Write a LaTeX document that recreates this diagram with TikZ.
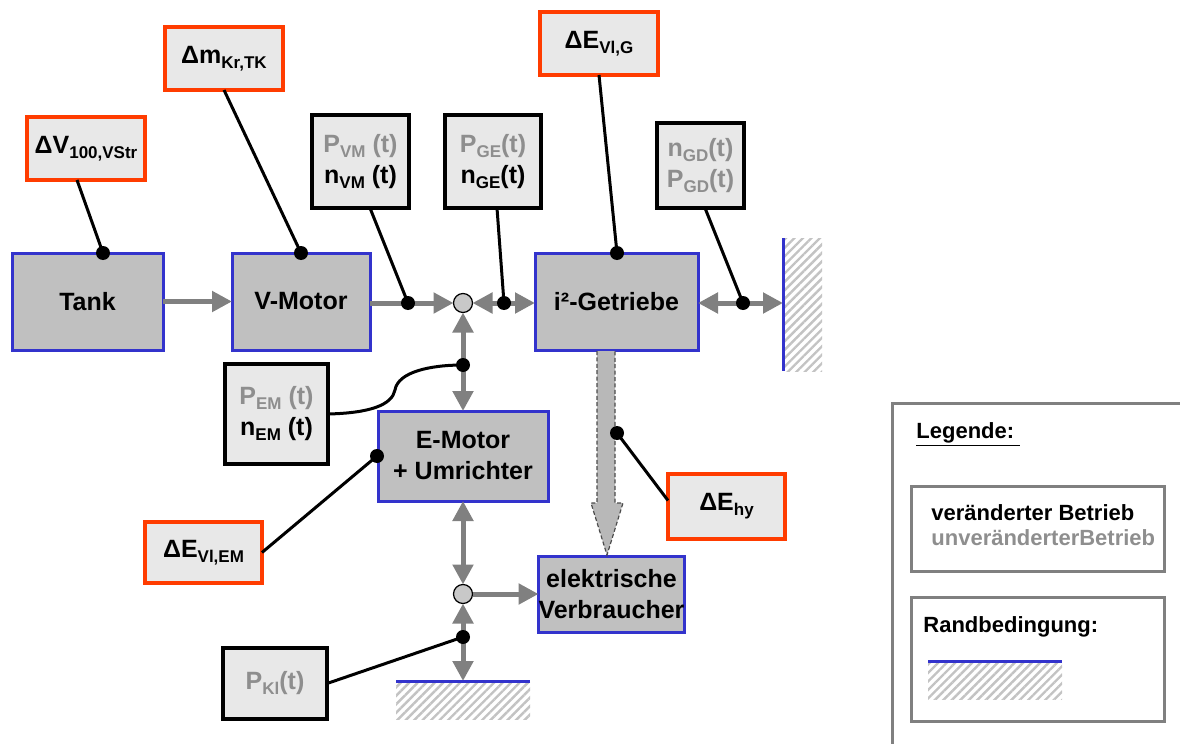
\documentclass[tikz,border=0pt]{standalone}
\usepackage{fontspec}
\setmainfont{Liberation Sans}
\usetikzlibrary{arrows.meta,patterns.meta}

\definecolor{blockblue}{RGB}{51,51,204}
\definecolor{blockfill}{RGB}{192,192,192}
\definecolor{boxfill}{RGB}{232,232,232}
\definecolor{evalred}{RGB}{255,60,0}
\definecolor{flowgray}{RGB}{128,128,128}
\definecolor{textgray}{RGB}{142,142,142}
\definecolor{hatchgray}{RGB}{195,195,195}
\definecolor{legendgray}{RGB}{128,128,128}
\definecolor{hyfill}{RGB}{184,184,184}
\definecolor{junctionfill}{RGB}{200,200,200}

% lowered index text and grey (unchanged) quantities
\newcommand\lowidx[1]{\raisebox{-2.5pt}{\fontsize{8.5}{9}\selectfont #1}}
\newcommand\gtxt[1]{\textcolor{textgray}{#1}}

\tikzset{
  base/.style={inner sep=0pt, outer sep=0pt, align=center,
    font=\bfseries\fontsize{12.5}{15.5}\selectfont},
  block/.style={base, draw=blockblue, line width=1.5pt, fill=blockfill},
  evalbox/.style={base, draw=evalred, line width=2pt, fill=boxfill},
  sigbox/.style={base, draw=black, line width=1.75pt, fill=boxfill},
  junction/.style={circle, draw=black, line width=0.6pt, fill=junctionfill,
    minimum size=9.5pt, inner sep=0pt, outer sep=0pt},
  probedot/.style={circle, fill=black, minimum size=7pt, inner sep=0pt, outer sep=0pt},
  flow/.style={draw=flowgray, line width=2.5pt},
  probe/.style={draw=black, line width=1.5pt},
  wallline/.style={draw=blockblue, line width=1.5pt},
  hatch/.style={pattern={Lines[angle=45,distance=3pt,line width=1.2pt]},
    pattern color=hatchgray},
  legendframe/.style={draw=legendgray, line width=1.5pt},
  legtext/.style={anchor=base west, inner sep=0pt,
    font=\bfseries\fontsize{11}{13}\selectfont},
  wh/.style 2 args={minimum width=#1*0.5pt, minimum height=#2*0.5pt},
  >={Triangle[length=10pt,width=10pt]}
}

\begin{document}
\begin{tikzpicture}[x=0.5pt,y=-0.5pt]
\clip (0,0) rectangle (1180,744);

% system blocks
\node[block, wh={151}{97}] (Tank) at (87.5,301.5) {Tank};
\node[block, wh={138}{97}] (VMotor) at (301,301.5) {V-Motor};
\node[block, wh={163}{97}] (Getriebe) at (616.5,301.5) {i²-Getriebe};
\node[block, wh={170}{90}] (EMotor) at (463,456) {E-Motor\\+ Umrichter};
\node[block, wh={143}{76}] (Verbraucher) at (611.5,594) {elektrische\\Verbraucher};

% evaluated quantities
\node[evalbox, wh={118}{63}] (dV) at (86,148.5) {ΔV\lowidx{100,VStr}};
\node[evalbox, wh={118}{63}] (dm) at (224,58.5) {Δm\lowidx{Kr,TK}};
\node[evalbox, wh={118}{63}] (dEG) at (599,43.5) {ΔE\lowidx{Vl,G}};
\node[evalbox, wh={117}{61}] (dEEM) at (203.5,552.5) {ΔE\lowidx{Vl,EM}};
\node[evalbox, wh={117}{65}] (dEhy) at (726.5,506.5) {ΔE\lowidx{hy}};

% signal quantities
\node[sigbox, wh={97}{93}] (PVM) at (360.5,161.5) {\gtxt{P\lowidx{VM} (t)}\\n\lowidx{VM} (t)};
\node[sigbox, wh={96}{93}] (PGE) at (493,161.5) {\gtxt{P\lowidx{GE}(t)}\\n\lowidx{GE}(t)};
\node[sigbox, wh={87}{85}] (nGD) at (700.5,165.5) {\gtxt{n\lowidx{GD}(t)}\\\gtxt{P\lowidx{GD}(t)}};
\node[sigbox, wh={103}{100}] (PEM) at (276.5,414) {\gtxt{P\lowidx{EM} (t)}\\n\lowidx{EM} (t)};
\node[sigbox, wh={104}{71}] (PKI) at (275,683.5) {\gtxt{P\lowidx{Kl}(t)}};

% power junctions and boundaries
\node[junction] (J1) at (463,303) {};
\node[junction] (J2) at (463,594) {};
\coordinate (wallR) at (783,303);
\coordinate (ground) at (463,681);

% hydraulic energy path
\draw[draw=black!70, line width=0.6pt, dash pattern=on 2pt off 1.2pt, fill=hyfill]
  (597,351) -- (597,503) -- (591,503) -- (607,555) -- (623,503) -- (615,503) -- (615,351);

% power flows
\draw[flow,->] (Tank) -- (VMotor);
\draw[flow,->] (VMotor.east |- J1) -- (J1);
\draw[flow,<->] (J1) -- (Getriebe.west |- J1);
\draw[flow,<->] (Getriebe.east |- J1) -- (wallR);
\draw[flow,<->] (J1) -- (EMotor);
\draw[flow,<->] (EMotor) -- (J2);
\draw[flow,->] (J2) -- (Verbraucher);
\draw[flow,<->] (J2) -- (ground);

% boundary conditions
\path[hatch] (784,238) rectangle (822,371);
\draw[wallline] (783,238) -- (783,371);
\path[hatch] (396,682) rectangle (530,719);
\draw[wallline] (396,681) -- (530,681);

% probe points
\node[probedot] (pTank) at (103,253) {};
\node[probedot] (pVM) at (301,253) {};
\node[probedot] (pVMout) at (408,303) {};
\node[probedot] (pGE) at (504,303) {};
\node[probedot] (pG) at (617,253) {};
\node[probedot] (pGD) at (743,303) {};
\node[probedot] (pEM) at (463,365) {};
\node[probedot] (pEMsig) at (377,456) {};
\node[probedot] (pKI) at (463,637) {};
\node[probedot] (pHy) at (617,433) {};

% probe connections
\draw[probe] ([xshift=-4.5pt]dV.south) -- (pTank.center);
\draw[probe] (dm.south) -- (pVM.center);
\draw[probe] ([xshift=4.75pt]PVM.south) -- (pVMout.center);
\draw[probe] ([xshift=2pt]PGE.south) -- (pGE.center);
\draw[probe] (dEG.south) -- (pG.center);
\draw[probe] ([xshift=2.25pt]nGD.south) -- (pGD.center);
\draw[probe] (PEM.east) .. controls (370,413) and (392,405) .. (395,390)
  .. controls (398,372) and (430,365) .. (pEM.center);
\draw[probe] (dEEM.east) -- (pEMsig.center);
\draw[probe] (PKI.east) -- (pKI.center);
\draw[probe] ([yshift=3pt]dEhy.west) -- (pHy.center);

% legend
\draw[legendframe] (892,403) rectangle (1200,760);
\draw[legendframe] (911,486) rectangle (1164,571);
\draw[legendframe] (911,597) rectangle (1164,721);
\node[legtext] (legTitle) at (916,438) {\underline{Legende:\ }};
\node[legtext] (legA) at (931,520) {veränderter Betrieb};
\node[legtext, text=textgray] (legB) at (931,545) {unveränderterBetrieb};
\node[legtext] (legC) at (923,632) {Randbedingung:};
\path[hatch] (928,663) rectangle (1062,699);
\draw[wallline] (928,661) -- (1062,661);
\end{tikzpicture}
\end{document}
